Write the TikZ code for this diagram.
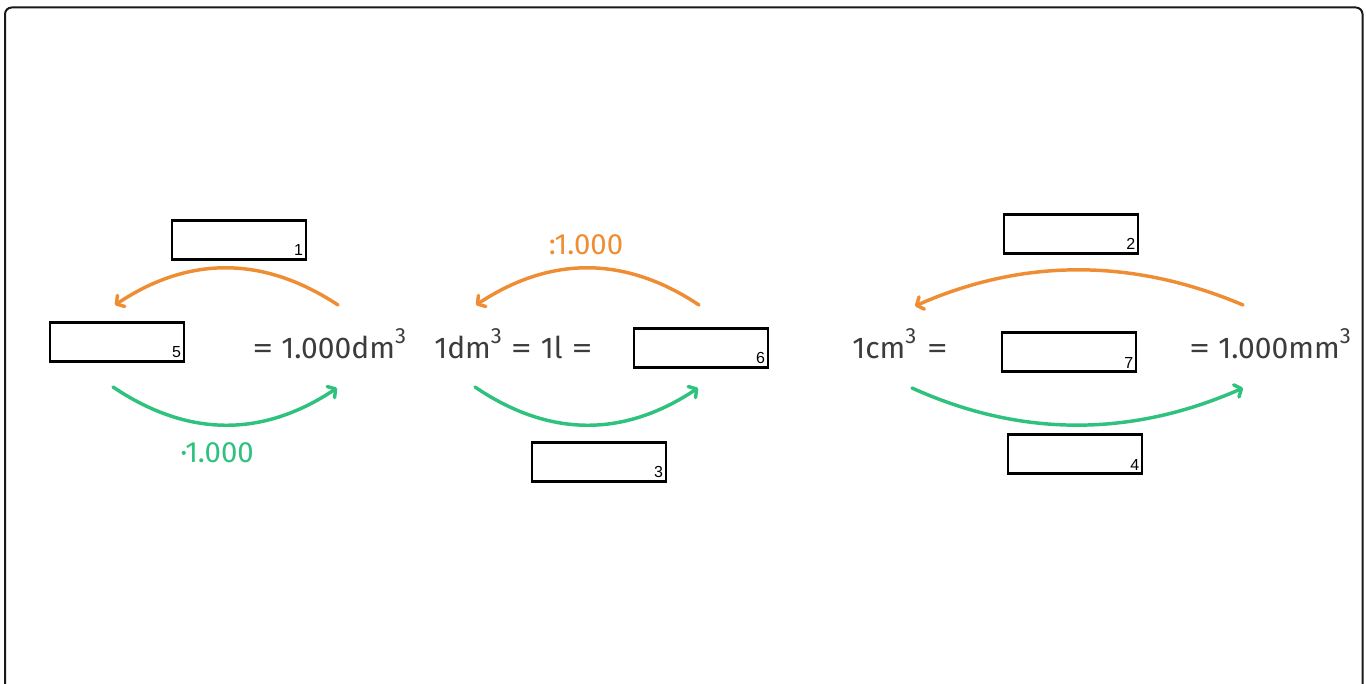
\documentclass[tikz,border=0pt]{standalone}
\usepackage{fontspec}
\usepackage{graphicx}
\setmainfont{Fira Sans}
\newfontfamily\numfont{Liberation Sans}
\usetikzlibrary{arrows.meta}
\definecolor{arcorange}{HTML}{EF8D34}
\definecolor{arcgreen}{HTML}{2EC27E}
\definecolor{txtgray}{HTML}{3C3C3C}
\newcommand\cubed{\raisebox{0.5em}{\fontsize{16.5}{17}\selectfont 3}}
\newcommand\weq{\scalebox{1.4}[1]{=}}
\begin{document}
\begin{tikzpicture}[x=0.75pt,y=-0.75pt,
  ansbox/.style={draw=black, line width=2.1pt, minimum width=100.5pt, minimum height=29.8pt, inner sep=0pt},
  boxnum/.style={anchor=south east, inner sep=0pt, font=\numfont\fontsize{12}{14}\selectfont},
  eqtext/.style={inner sep=0pt, text=txtgray, font=\fontsize{22.5}{26}\selectfont},
  optext/.style={inner sep=0pt, font=\fontsize{22}{26}\selectfont},
  arcline/.style={line width=2.6pt, line cap=round, -{Straight Barb[length=4.2pt,width=10pt,round]}}
]
\useasboundingbox (0,0) rectangle (1366,684);
% frame
\draw[line width=1.5pt, rounded corners=5pt, color=black!90] (5,684) -- (5,7.5) -- (1362.5,7.5) -- (1362.5,684);

% answer boxes
\node[ansbox] (b1) at (239,240) {};
\node[ansbox] (b5) at (117,342) {};
\node[ansbox] (b6) at (701,348) {};
\node[ansbox] (b3) at (599,462) {};
\node[ansbox] (b2) at (1071,234) {};
\node[ansbox] (b7) at (1069,352) {};
\node[ansbox] (b4) at (1075,454) {};
\node[boxnum] (n1) at ([shift={(-4,-5)}]b1.south east) {1};
\node[boxnum] (n5) at ([shift={(-4,-5)}]b5.south east) {5};
\node[boxnum] (n6) at ([shift={(-4,-5)}]b6.south east) {6};
\node[boxnum] (n3) at ([shift={(-4,-5)}]b3.south east) {3};
\node[boxnum] (n2) at ([shift={(-4,-5)}]b2.south east) {2};
\node[boxnum] (n7) at ([shift={(-4,-5)}]b7.south east) {7};
\node[boxnum] (n4) at ([shift={(-4,-5)}]b4.south east) {4};

% equation texts
\node[eqtext, anchor=base west] (t1) at (252,358) {\weq\hspace{0.27em}1.000dm\cubed};
\node[eqtext, anchor=base west] (t2) at (434,358) {1dm\cubed\hspace{0.3em}\weq\hspace{0.3em}1l\hspace{0.3em}\weq};
\node[eqtext, anchor=base west] (t3) at (852,358) {1cm\cubed\hspace{0.35em}\weq};
\node[eqtext, anchor=base east] (t4) at (1351,358) {\weq\hspace{0.27em}1.000mm\cubed};

% operator labels
\node[optext, text=arcorange, anchor=base] (divlab) at (586,255) {:1.000};
\node[optext, text=arcgreen, anchor=base] (mullab) at (217,462) {·1.000};

% arc end points
\coordinate (oL1) at (338,305); \coordinate (oL2) at (115,305);
\coordinate (gL1) at (113,387); \coordinate (gL2) at (337,388);
\coordinate (oM1) at (699,305); \coordinate (oM2) at (476,305);
\coordinate (gM1) at (475,387); \coordinate (gM2) at (698,388);
\coordinate (oR1) at (1243,305); \coordinate (oR2) at (915,306);
\coordinate (gR1) at (912,388); \coordinate (gR2) at (1243,388);

% arcs
\draw[arcline, arcorange] (oL1) .. controls (263.3,255.7) and (189,255.7) .. (oL2);
\draw[arcline, arcgreen] (gL1) .. controls (187.7,437.3) and (262.3,437.7) .. (gL2);
\draw[arcline, arcorange] (oM1) .. controls (625,255.7) and (550.7,255.7) .. (oM2);
\draw[arcline, arcgreen] (gM1) .. controls (549,437.3) and (623.3,437.7) .. (gM2);
\draw[arcline, arcorange] (oR1) .. controls (1132.3,258) and (1023,258.3) .. (oR2);
\draw[arcline, arcgreen] (gR1) .. controls (1020.7,437.3) and (1131,437.3) .. (gR2);
\end{tikzpicture}
\end{document}
